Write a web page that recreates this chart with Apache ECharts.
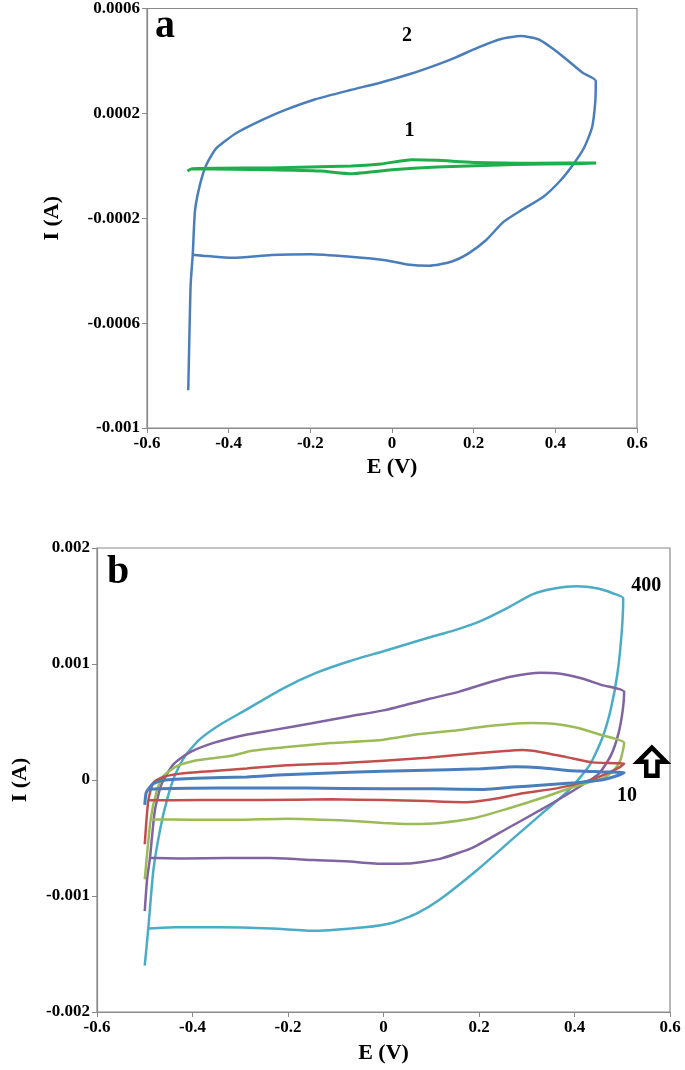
<!DOCTYPE html>
<html>
<head>
<meta charset="utf-8">
<script src="https://cdn.jsdelivr.net/npm/echarts@6/dist/echarts.min.js"></script>
<style>
html,body{margin:0;padding:0;background:#fff;}
#chart{width:685px;height:1070px;}
</style>
</head>
<body>
<div id="chart"></div>
<script>
// ---------- Panel a data ----------
const aXTicks = [-0.6, -0.4, -0.2, 0, 0.2, 0.4, 0.6];
const aYTicks = [-0.001, -0.0006, -0.0002, 0.0002, 0.0006];
const aCurve2 = [
  [-0.499,-0.000856],[-0.496,-0.000638],[-0.493,-0.000450],[-0.488,-0.000339],[-0.4824,-0.000171],
  [-0.470,-0.00007],[-0.454,0.000006],[-0.429,0.000069],[-0.38,0.000126],[-0.315,0.000177],
  [-0.258,0.000215],[-0.1875,0.000254],[-0.102,0.000289],
  [-0.027,0.000318],[0.048,0.000352],[0.1125,0.000387],[0.155,0.000413],[0.209,0.00045],
  [0.2625,0.000482],[0.316,0.000495],[0.359,0.000482],[0.4125,0.000425],[0.466,0.000356],
  [0.499,0.000324],[0.498,0.000248],[0.49,0.000147],[0.471,0.000071],[0.445,0.000008],
  [0.4125,-0.000056],[0.37,-0.000119],[0.316,-0.00017],[0.273,-0.000214],[0.23,-0.000284],
  [0.1875,-0.000334],[0.145,-0.000366],[0.091,-0.000381],[0.0375,-0.000376],[-0.016,-0.00036],
  [-0.102,-0.000347],[-0.198,-0.000337],[-0.295,-0.00034],[-0.391,-0.000351],[-0.455,-0.000344],
  [-0.488,-0.000339]
];
const aCurve1 = [
  [-0.501,-0.00002],[-0.49,-0.000011],[-0.3,-0.000008],[-0.1,-0.000001],[-0.027,0.000007],
  [0.048,0.000023],[0.11,0.000021],[0.2,0.000013],[0.35,0.00001],[0.5,0.000011],
  [0.45,0.000008],[0.3,0.000005],[0.11,-0.000005],[0.0,-0.000015],[-0.1,-0.00003],
  [-0.175,-0.00002],[-0.3,-0.000015],[-0.49,-0.000011]
];
const aLabels = [[0.037, 0.000495, '2'], [0.043, 0.000134, '1'], [-0.556, 0.00053, 'a']];

// ---------- Panel b data ----------
const bXTicks = [-0.6, -0.4, -0.2, 0, 0.2, 0.4, 0.6];
const bYTicks = [-0.002, -0.001, 0, 0.001, 0.002];
const b400 = [
  [-0.5,-0.0016],[-0.4926,-0.00128],[-0.482,-0.00078],[-0.468,-0.00043],[-0.454,-0.00018],
  [-0.437,0.00004],[-0.415,0.00021],[-0.385,0.00035],[-0.345,0.00047],[-0.29,0.0006],
  [-0.21,0.00079],[-0.14,0.000925],[-0.07,0.001026],[0.0,0.00111],[0.097,0.00123],
  [0.148,0.00129],[0.203,0.00137],[0.258,0.00148],[0.312,0.0016],[0.358,0.00165],
  [0.404,0.00167],[0.449,0.00165],[0.48,0.00161],[0.502,0.001566],[0.499,0.00128],
  [0.49,0.00092],[0.476,0.00061],[0.458,0.00036],[0.432,0.00013],[0.39,-0.00008],
  [0.34,-0.00026],[0.27,-0.00051],[0.195,-0.00078],[0.118,-0.00103],
  [0.07,-0.00115],[0.02,-0.00123],[-0.04,-0.00127],[-0.144,-0.0013],
  [-0.235,-0.00128],[-0.345,-0.00127],[-0.436,-0.00127],[-0.4926,-0.00128]
];
const b200 = [
  [-0.5,-0.00113],[-0.495,-0.00085],[-0.489,-0.00067],[-0.479,-0.000267],[-0.465,-0.000037],
  [-0.44,0.000135],[-0.405,0.00024],[-0.356,0.00032],[-0.3,0.00038],[-0.232,0.00043],
  [-0.15,0.00049],[-0.07,0.00055],[0.0,0.0006],[0.097,0.0007],[0.157,0.00076],
  [0.212,0.00083],[0.266,0.00089],[0.33,0.000924],[0.367,0.000918],
  [0.412,0.000879],[0.458,0.000818],[0.504,0.00076],[0.501,0.0006],[0.492,0.0004],
  [0.476,0.00021],[0.45,0.00005],[0.398,-0.00009],[0.328,-0.00026],[0.258,-0.00042],
  [0.188,-0.00058],[0.118,-0.00068],[0.05,-0.00072],[0.0,-0.000722],[-0.08,-0.0007],
  [-0.146,-0.00069],[-0.237,-0.000673],[-0.328,-0.000673],[-0.42,-0.000676],[-0.489,-0.00067]
];
const b100 = [
  [-0.5,-0.000856],[-0.4876,-0.000339],[-0.475,-0.000095],[-0.461,0.000034],[-0.433,0.00012],
  [-0.391,0.00017],[-0.321,0.000207],[-0.275,0.000252],[-0.202,0.000285],[-0.111,0.000318],
  [0.0,0.000348],[0.072,0.000394],[0.145,0.000424],[0.2,0.000455],[0.255,0.000479],
  [0.31,0.000491],[0.356,0.000485],[0.401,0.000455],[0.456,0.000388],[0.504,0.00032],
  [0.496,0.00017],[0.482,0.00008],[0.462,0.00002],[0.398,-0.00006],[0.328,-0.00016],
  [0.258,-0.00025],[0.188,-0.00033],[0.118,-0.00037],[0.06,-0.00038],[0.0,-0.00037],
  [-0.091,-0.000348],[-0.201,-0.000333],[-0.31,-0.000342],[-0.401,-0.000342],[-0.4876,-0.000339]
];
const b50 = [
  [-0.5,-0.000554],[-0.4925,-0.000175],[-0.482,-0.000023],[-0.461,0.000026],[-0.426,0.000055],
  [-0.356,0.000078],[-0.286,0.0001],[-0.202,0.000127],[-0.092,0.000145],[0.0,0.000167],
  [0.091,0.000191],[0.183,0.000227],[0.247,0.000248],[0.292,0.000258],[0.328,0.000242],
  [0.383,0.000197],[0.438,0.000152],[0.504,0.00014],[0.493,0.000106],[0.47,0.00006],
  [0.429,-0.000005],[0.365,-0.00007],[0.292,-0.000115],[0.228,-0.000165],[0.173,-0.000191],
  [0.091,-0.000182],[0.0,-0.000173],[-0.11,-0.000167],[-0.256,-0.000173],[-0.385,-0.000173],
  [-0.4925,-0.000175]
];
const b10 = [
  [-0.5,-0.000215],[-0.497,-0.00011],[-0.489,-0.00006],[-0.482,-0.000032],[-0.461,-0.000003],
  [-0.391,0.000015],[-0.286,0.000026],[-0.208,0.000045],[-0.071,0.000067],[0.066,0.000082],
  [0.203,0.000097],[0.276,0.000115],[0.33,0.000106],[0.385,0.000082],[0.458,0.00007],
  [0.504,0.000063],[0.484,0.00003],[0.456,0.0],[0.401,-0.000024],[0.328,-0.000045],
  [0.273,-0.000061],[0.21,-0.000082],[0.109,-0.000076],[0.0,-0.000076],[-0.164,-0.00007],
  [-0.345,-0.00007],[-0.472,-0.000075],[-0.492,-0.00008]
];
const bLabels = [[0.550, 0.00167, '400'], [0.510, -0.00014, '10'], [-0.556, 0.00179, 'b']];
const bArrow = [[0.562, 0.000158]];

const serif = '"Liberation Serif","Times New Roman",serif';
const tickColor = '#000';
const fmt = v => String(+(+v).toFixed(6));

function xAxis(grid, ticks, nameGap) {
  return {
    type: 'value', gridIndex: grid, min: ticks[0], max: ticks[ticks.length - 1], interval: 0.2,
    name: 'E (V)', nameLocation: 'middle', nameGap: nameGap,
    nameTextStyle: {fontFamily: serif, fontWeight: 'bold', fontSize: 22, color: '#000'},
    axisLine: {show: true, onZero: false, lineStyle: {color: '#8a8a8a', width: 1.2}},
    axisTick: {show: true, inside: false, length: 5, lineStyle: {color: '#8a8a8a'}},
    axisLabel: {fontFamily: serif, fontWeight: 'bold', fontSize: 17, color: tickColor, margin: 7, formatter: fmt},
    splitLine: {show: false}
  };
}
function yAxis(grid, ticks, nameGap) {
  return {
    type: 'value', gridIndex: grid, min: ticks[0], max: ticks[ticks.length - 1],
    name: 'I (A)', nameLocation: 'middle', nameGap: nameGap, nameRotate: 90,
    nameTextStyle: {fontFamily: serif, fontWeight: 'bold', fontSize: 22, color: '#000'},
    axisLine: {show: true, onZero: false, lineStyle: {color: '#8a8a8a', width: 1.2}},
    axisTick: {show: true, inside: false, length: 5, lineStyle: {color: '#8a8a8a'}, customValues: ticks},
    axisLabel: {fontFamily: serif, fontWeight: 'bold', fontSize: 17, color: tickColor, margin: 7, formatter: fmt, customValues: ticks},
    splitLine: {show: false}
  };
}
function curve(data, color, xi, width) {
  return {
    type: 'line', data: data, xAxisIndex: xi, yAxisIndex: xi, showSymbol: false, symbol: 'none',
    smooth: 0.2, lineStyle: {color: color, width: width || 2.5}, z: 3, animation: false
  };
}
function labels(list, xi) {
  return {
    type: 'scatter', xAxisIndex: xi, yAxisIndex: xi, symbolSize: 1, animation: false, z: 5,
    itemStyle: {opacity: 0},
    data: list.map(d => ({
      value: [d[0], d[1]],
      label: {
        show: true, position: 'inside', formatter: d[2], fontFamily: serif, fontWeight: 'bold',
        fontSize: (d[2] === 'a' || d[2] === 'b') ? 40 : 20, color: '#000', opacity: 1
      }
    }))
  };
}

const chart = echarts.init(document.getElementById('chart'), null, {renderer: 'canvas'});
chart.setOption({
  backgroundColor: '#fff',
  animation: false,
  grid: [
    {left: 147, top: 7, width: 490, height: 421, show: true, borderColor: '#8a8a8a', borderWidth: 1.2, backgroundColor: '#fff'},
    {left: 97, top: 548, width: 573, height: 464, show: true, borderColor: '#8a8a8a', borderWidth: 1.2, backgroundColor: '#fff'}
  ],
  xAxis: [xAxis(0, aXTicks, 28), xAxis(1, bXTicks, 30)],
  yAxis: [yAxis(0, aYTicks, 84), yAxis(1, bYTicks, 66)],
  series: [
    curve(aCurve2, '#4a7ebb', 0),
    curve(aCurve1, '#1fae4b', 0, 3),
    labels(aLabels, 0),
    curve(b400, '#4bacc6', 1),
    curve(b200, '#8064a2', 1),
    curve(b100, '#9bbb59', 1),
    curve(b50, '#c0504d', 1),
    curve(b10, '#4a7ebb', 1, 3),
    labels(bLabels, 1),
    {
      type: 'scatter', xAxisIndex: 1, yAxisIndex: 1, animation: false, z: 6,
      data: bArrow,
      symbol: 'path://M10,0 L20,10 L14,10 L14,20 L6,20 L6,10 L0,10 Z',
      symbolSize: [28, 28],
      itemStyle: {color: '#fff', borderColor: '#000', borderWidth: 4.5, opacity: 1}
    }
  ]
});
</script>
</body>
</html>
